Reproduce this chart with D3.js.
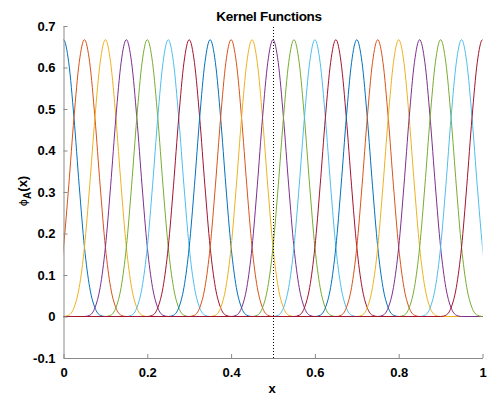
<!DOCTYPE html>
<html>
<head>
<meta charset="utf-8">
<script src="https://cdn.jsdelivr.net/npm/d3@7"></script>
<style>
  body { margin: 0; background: #fff; }
  text { font-family: "Liberation Sans", Arial, sans-serif; font-weight: bold; }
</style>
</head>
<body>
<svg id="chart"></svg>
<script>
// kernel centres (one curve each)
const centers = [0, 0.05, 0.1, 0.15, 0.2, 0.25, 0.3, 0.35, 0.4, 0.45, 0.5,
                 0.55, 0.6, 0.65, 0.7, 0.75, 0.8, 0.85, 0.9, 0.95, 1.0];
// kernel shape: offset (in units of spacing) and height
const spacing = 0.05;
const profileT = [-2, -1.75, -1.5, -1.25, -1, -0.75, -0.5, -0.25, 0,
                  0.25, 0.5, 0.75, 1, 1.25, 1.5, 1.75, 2];
const profileY = [0, 0.003, 0.021, 0.070, 0.167, 0.315, 0.479, 0.612, 0.667,
                  0.612, 0.479, 0.315, 0.167, 0.070, 0.021, 0.003, 0];
const colors = ['#0072BD', '#D95319', '#EDB120', '#7E2F8E', '#77AC30', '#4DBEEE', '#A2142F'];
const xTicks = [0, 0.2, 0.4, 0.6, 0.8, 1];
const yTicks = [-0.1, 0, 0.1, 0.2, 0.3, 0.4, 0.5, 0.6, 0.7];
const marker = 0.5;

const w = 487, h = 395;
const svg = d3.select('#chart').attr('width', w).attr('height', h);

const x = d3.scaleLinear().domain([0, 1]).range([63.5, 482.5]);
const y = d3.scaleLinear().domain([-0.1, 0.7]).range([358, 26]);

svg.append('clipPath').attr('id', 'clip')
  .append('rect')
  .attr('x', x(0)).attr('y', y(0.7))
  .attr('width', x(1) - x(0)).attr('height', y(-0.1) - y(0.7));

const line = d3.line()
  .x(d => x(d[0]))
  .y(d => y(d[1]))
  .curve(d3.curveMonotoneX);

// each kernel evaluated over the whole domain, zero outside its support
const kernels = centers.map(c => {
  const pts = profileT.map((t, i) => [c + t * spacing, profileY[i]]);
  if (pts[0][0] > 0) pts.unshift([0, 0]);
  if (pts[pts.length - 1][0] < 1) pts.push([1, 0]);
  return pts;
});

const g = svg.append('g').attr('clip-path', 'url(#clip)');
g.selectAll('.kernel')
  .data(kernels)
  .join('path')
  .attr('class', 'kernel')
  .attr('d', line)
  .attr('fill', 'none')
  .attr('stroke', (d, i) => colors[i % colors.length])
  .attr('stroke-width', 1);

// dotted marker line
svg.append('line')
  .attr('x1', Math.round(x(marker)) + 0.5).attr('x2', Math.round(x(marker)) + 0.5)
  .attr('y1', y(-0.1)).attr('y2', y(0.7))
  .attr('stroke', '#000')
  .attr('stroke-dasharray', '1,2');

// axes
const fmt = d => String(d);
const xAxis = d3.axisBottom(x).tickValues(xTicks).tickSizeInner(-4).tickSizeOuter(0)
  .tickPadding(10).tickFormat(fmt);
const yAxis = d3.axisLeft(y).tickValues(yTicks).tickSizeInner(-4).tickSizeOuter(0)
  .tickPadding(8).tickFormat(fmt);

const gx = svg.append('g').attr('transform', `translate(0,${y(-0.1)})`).call(xAxis);
const gy = svg.append('g').attr('transform', `translate(${x(0)},0)`).call(yAxis);
[gx, gy].forEach(a => {
  a.select('.domain').attr('stroke', '#8a8a8a');
  a.selectAll('.tick line').attr('stroke', '#8a8a8a');
  a.selectAll('.tick text').attr('fill', '#000').style('font-size', '13px')
    .style('font-family', '"Liberation Sans", Arial, sans-serif').style('font-weight', 'bold');
});

// title and labels
svg.append('text')
  .attr('x', 269).attr('y', 21)
  .attr('text-anchor', 'middle')
  .style('font-size', '13.5px')
  .style('letter-spacing', '-0.3px')
  .text('Kernel Functions');

svg.append('text')
  .attr('x', 272).attr('y', 393)
  .attr('text-anchor', 'middle')
  .style('font-size', '13px')
  .text('x');

const yl = svg.append('text')
  .attr('transform', 'translate(27,191) rotate(-90)')
  .attr('text-anchor', 'middle')
  .style('font-size', '13px');
yl.append('tspan').style('font-weight', 'normal').style('font-family', '"DejaVu Sans", sans-serif')
  .style('font-size', '11px').text('\u03D5');
yl.append('tspan').attr('dy', 4).style('font-size', '10px').text('A');
yl.append('tspan').attr('dy', -4).text('(x)');
</script>
</body>
</html>
